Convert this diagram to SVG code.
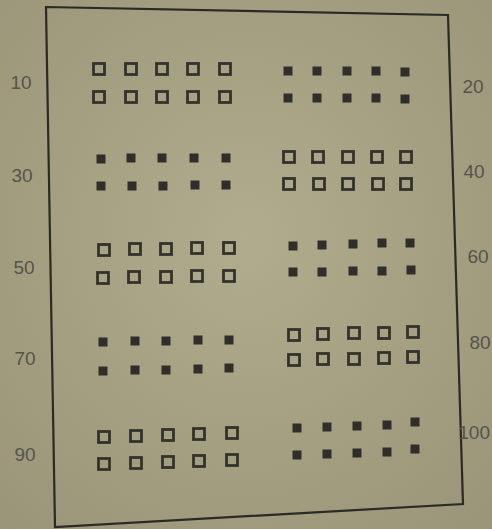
<svg xmlns="http://www.w3.org/2000/svg" xmlns:xlink="http://www.w3.org/1999/xlink" width="492" height="529" viewBox="0 0 492 529">
<defs>
<radialGradient id="paper" cx="0.5" cy="0.45" r="0.75">
<stop offset="0" stop-color="#b2ac8e"/>
<stop offset="1" stop-color="#9a9478"/>
</radialGradient>
<rect id="h" x="-5.5" y="-5.5" width="11" height="11" fill="none" stroke="#33322c" stroke-width="2.8"/>
<rect id="f" x="-4.5" y="-4.5" width="9" height="9" fill="#2f2e2a"/>
</defs>
<style>
.lbl{font-family:"Liberation Sans",Arial,sans-serif;font-size:19px;fill:#55544a;text-anchor:middle;dominant-baseline:central}
</style>
<rect width="492" height="529" fill="url(#paper)"/>
<polygon points="46,7 448,15 463,504 55,527" fill="none" stroke="#2a2a26" stroke-width="2.2"/>
<g id="labels">
<text class="lbl" x="21" y="82">10</text>
<text class="lbl" x="22" y="175">30</text>
<text class="lbl" x="24" y="267">50</text>
<text class="lbl" x="25" y="358">70</text>
<text class="lbl" x="25" y="454">90</text>
<text class="lbl" x="473" y="86">20</text>
<text class="lbl" x="474" y="171">40</text>
<text class="lbl" x="478" y="256">60</text>
<text class="lbl" x="480" y="342">80</text>
<text class="lbl" x="490" y="432" style="text-anchor:end">100</text>
</g>
<g id="block10">
<use xlink:href="#h" x="99" y="69"/><use xlink:href="#h" x="131" y="69"/><use xlink:href="#h" x="162" y="69"/><use xlink:href="#h" x="193" y="69"/><use xlink:href="#h" x="225" y="69"/>
<use xlink:href="#h" x="99" y="97"/><use xlink:href="#h" x="131" y="97"/><use xlink:href="#h" x="162" y="97"/><use xlink:href="#h" x="193" y="97"/><use xlink:href="#h" x="225" y="97"/>
</g>
<g id="block20">
<use xlink:href="#f" x="288" y="71"/><use xlink:href="#f" x="317" y="71"/><use xlink:href="#f" x="347" y="71"/><use xlink:href="#f" x="376" y="71"/><use xlink:href="#f" x="405" y="72"/>
<use xlink:href="#f" x="288" y="98"/><use xlink:href="#f" x="317" y="98"/><use xlink:href="#f" x="347" y="98"/><use xlink:href="#f" x="376" y="98"/><use xlink:href="#f" x="405" y="99"/>
</g>
<g id="block30">
<use xlink:href="#f" x="101" y="159"/><use xlink:href="#f" x="131" y="158"/><use xlink:href="#f" x="162" y="158"/><use xlink:href="#f" x="194" y="158"/><use xlink:href="#f" x="226" y="158"/>
<use xlink:href="#f" x="101" y="186"/><use xlink:href="#f" x="132" y="186"/><use xlink:href="#f" x="163" y="186"/><use xlink:href="#f" x="195" y="185"/><use xlink:href="#f" x="226" y="185"/>
</g>
<g id="block40">
<use xlink:href="#h" x="289" y="157"/><use xlink:href="#h" x="318" y="157"/><use xlink:href="#h" x="348" y="157"/><use xlink:href="#h" x="377" y="157"/><use xlink:href="#h" x="406" y="157"/>
<use xlink:href="#h" x="289" y="184"/><use xlink:href="#h" x="319" y="184"/><use xlink:href="#h" x="348" y="184"/><use xlink:href="#h" x="378" y="184"/><use xlink:href="#h" x="406" y="184"/>
</g>
<g id="block50">
<use xlink:href="#h" x="104" y="250"/><use xlink:href="#h" x="135" y="249"/><use xlink:href="#h" x="166" y="249"/><use xlink:href="#h" x="197" y="248"/><use xlink:href="#h" x="229" y="248"/>
<use xlink:href="#h" x="103" y="278"/><use xlink:href="#h" x="134" y="277"/><use xlink:href="#h" x="166" y="277"/><use xlink:href="#h" x="197" y="276"/><use xlink:href="#h" x="229" y="276"/>
</g>
<g id="block60">
<use xlink:href="#f" x="293" y="246"/><use xlink:href="#f" x="322" y="245"/><use xlink:href="#f" x="353" y="244"/><use xlink:href="#f" x="382" y="243"/><use xlink:href="#f" x="410" y="243"/>
<use xlink:href="#f" x="293" y="272"/><use xlink:href="#f" x="322" y="272"/><use xlink:href="#f" x="353" y="271"/><use xlink:href="#f" x="382" y="271"/><use xlink:href="#f" x="411" y="270"/>
</g>
<g id="block70">
<use xlink:href="#f" x="103" y="342"/><use xlink:href="#f" x="135" y="341"/><use xlink:href="#f" x="166" y="341"/><use xlink:href="#f" x="198" y="340"/><use xlink:href="#f" x="229" y="340"/>
<use xlink:href="#f" x="103" y="371"/><use xlink:href="#f" x="135" y="370"/><use xlink:href="#f" x="166" y="370"/><use xlink:href="#f" x="198" y="369"/><use xlink:href="#f" x="229" y="368"/>
</g>
<g id="block80">
<use xlink:href="#h" x="294" y="335"/><use xlink:href="#h" x="323" y="334"/><use xlink:href="#h" x="354" y="333"/><use xlink:href="#h" x="384" y="333"/><use xlink:href="#h" x="413" y="332"/>
<use xlink:href="#h" x="294" y="360"/><use xlink:href="#h" x="323" y="359"/><use xlink:href="#h" x="354" y="359"/><use xlink:href="#h" x="384" y="358"/><use xlink:href="#h" x="413" y="357"/>
</g>
<g id="block90">
<use xlink:href="#h" x="104" y="437"/><use xlink:href="#h" x="136" y="436"/><use xlink:href="#h" x="168" y="435"/><use xlink:href="#h" x="199" y="434"/><use xlink:href="#h" x="232" y="433"/>
<use xlink:href="#h" x="104" y="464"/><use xlink:href="#h" x="136" y="463"/><use xlink:href="#h" x="168" y="462"/><use xlink:href="#h" x="199" y="461"/><use xlink:href="#h" x="232" y="460"/>
</g>
<g id="block100">
<use xlink:href="#f" x="297" y="428"/><use xlink:href="#f" x="327" y="427"/><use xlink:href="#f" x="357" y="426"/><use xlink:href="#f" x="387" y="425"/><use xlink:href="#f" x="415" y="422"/>
<use xlink:href="#f" x="297" y="455"/><use xlink:href="#f" x="327" y="454"/><use xlink:href="#f" x="357" y="453"/><use xlink:href="#f" x="387" y="452"/><use xlink:href="#f" x="415" y="449"/>
</g>
</svg>
